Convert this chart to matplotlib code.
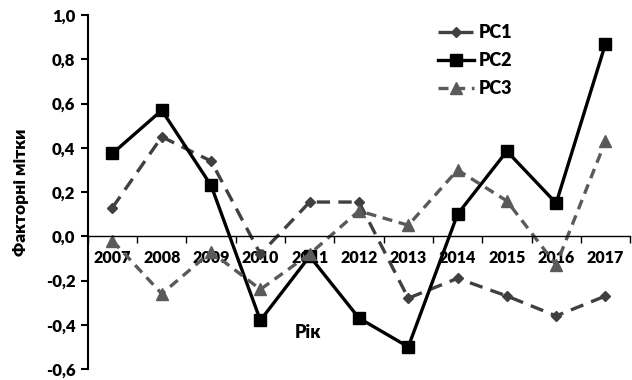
import matplotlib
matplotlib.use("Agg")
import matplotlib.pyplot as plt
import numpy as np

plt.rcParams['font.family'] = ['Lato', 'DejaVu Sans']
plt.rcParams['font.weight'] = 'heavy'

years = ["2007", "2008", "2009", "2010", "2011", "2012", "2013", "2014", "2015", "2016", "2017"]
pc1 = [0.13, 0.45, 0.34, -0.08, 0.155, 0.155, -0.28, -0.19, -0.27, -0.36, -0.27]
pc2 = [0.375, 0.57, 0.23, -0.38, -0.09, -0.37, -0.50, 0.10, 0.385, 0.15, 0.87]
pc3 = [-0.02, -0.26, -0.07, -0.24, -0.08, 0.115, 0.05, 0.30, 0.16, -0.13, 0.43]

x = np.arange(len(years))

fig = plt.figure(figsize=(6.32, 3.8), dpi=100)
ax = fig.add_axes([0.139, 0.029, 0.858, 0.931])

ax.plot(x, pc1, color="#404040", lw=2.4, ls=(0, (4, 2.5)), marker="D", ms=5, label="PC1")
ax.plot(x, pc2, color="black", lw=2.4, ls="-", marker="s", ms=8, label="PC2")
ax.plot(x, pc3, color="#5a5a5a", lw=2.4, ls=(0, (3, 2)), marker="^", ms=8, label="PC3")

ax.set_xlim(-0.5, 10.5)
ax.set_ylim(-0.6, 1.0)
yt = np.arange(-0.6, 1.01, 0.2)
ax.set_yticks(yt)
ax.set_yticklabels([f"{v:.1f}".replace(".", ",").replace("-0,0", "0,0") for v in yt])
ax.tick_params(axis="y", direction="out", length=5, width=1.5, labelsize=12, pad=4)

ax.set_xticks(x)
ax.set_xticklabels(years)
ax.set_xticks(np.arange(-0.5, 10.6, 1), minor=True)
ax.tick_params(axis="x", which="major", length=0, labelsize=11.5, pad=10)
ax.tick_params(axis="x", which="minor", direction="out", length=5, width=1)

ax.spines["top"].set_visible(False)
ax.spines["right"].set_visible(False)
ax.spines["bottom"].set_position(("data", 0))
ax.spines["left"].set_linewidth(1.5)
ax.spines["bottom"].set_linewidth(1)

ax.set_ylabel("Факторні мітки", fontsize=12.5, fontweight="heavy", labelpad=12)
ax.text(3.97, -0.434, "Рік", fontsize=13, fontweight="heavy", ha="center", va="center")

ax.legend(loc="upper left", bbox_to_anchor=(0.615, 1.02), frameon=False, fontsize=13,
          handlelength=2.0, labelspacing=0.6, handletextpad=0.3)

fig.savefig("out.png", dpi=100)
